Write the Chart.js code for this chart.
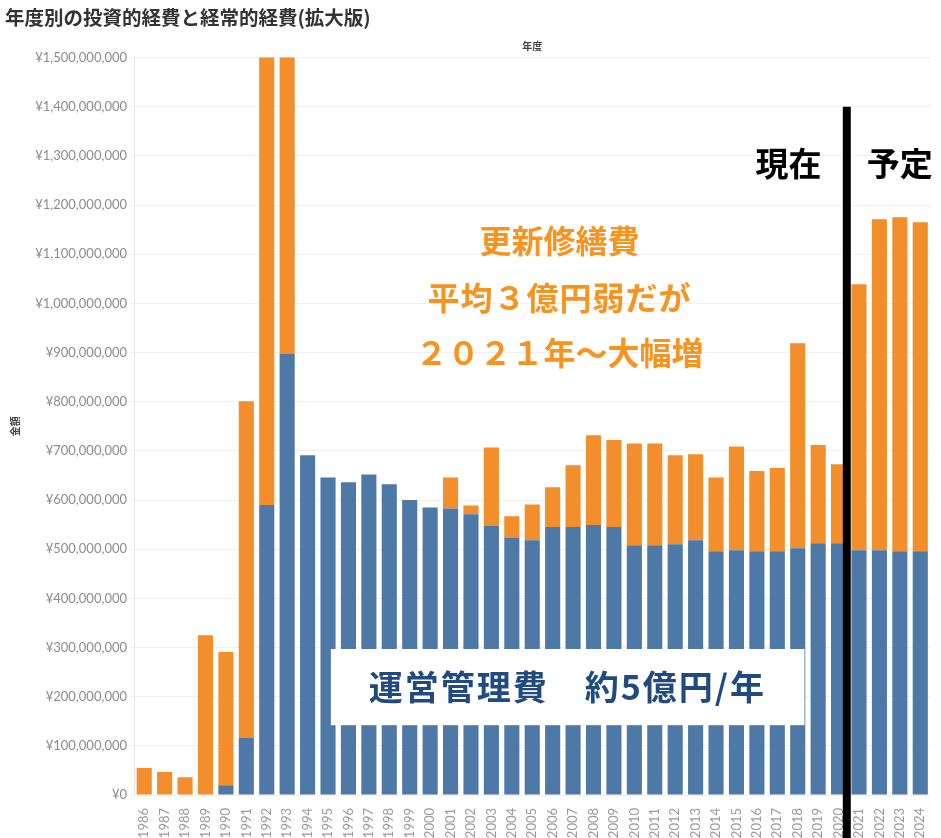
<!DOCTYPE html>
<html lang="ja">
<head>
<meta charset="utf-8">
<script src="https://cdn.jsdelivr.net/npm/chart.js@4/dist/chart.umd.min.js"></script>
<style>
body { margin: 0; background: #fff; }
#wrap { width: 941px; height: 838px; }
</style>
</head>
<body>
<div id="wrap"><canvas id="myChart" width="941" height="838"></canvas></div>
<script>
var years = ['1986','1987','1988','1989','1990','1991','1992','1993','1994','1995',
  '1996','1997','1998','1999','2000','2001','2002','2003','2004','2005',
  '2006','2007','2008','2009','2010','2011','2012','2013','2014','2015',
  '2016','2017','2018','2019','2020','2021','2022','2023','2024']

// 運営管理費 (blue)
var unei = [0,0,0,0,20e6,116e6,590e6,898e6,691e6,646e6,
  636e6,652e6,632e6,600e6,585e6,583e6,571e6,547e6,524e6,518e6,
  545e6,545e6,549e6,545e6,508e6,508e6,510e6,518e6,496e6,498e6,
  496e6,496e6,502e6,512e6,512e6,498e6,498e6,496e6,496e6]

// 更新修繕費 (orange)
var koushin = [55e6,47e6,36e6,325e6,271e6,685e6,1000e6,700e6,0,0,
  0,0,0,0,0,63e6,18e6,160e6,43e6,73e6,
  81e6,126e6,183e6,177e6,207e6,207e6,181e6,175e6,150e6,211e6,
  163e6,169e6,417e6,200e6,161e6,541e6,673e6,679e6,669e6]

var yTicksMax = 1500000000
var yStep = 100000000

var jp = "'Noto Sans CJK JP', sans-serif"

var notes = {
  id: 'notes',
  afterDraw: function(chart) {
    var ctx = chart.ctx
    var x = chart.scales.x
    var y = chart.scales.y
    ctx.save()

    // white box over the blue bars
    var bx1 = x.getPixelForValue(9.14), bx2 = x.getPixelForValue(32.33)
    var by1 = y.getPixelForValue(297e6), by2 = y.getPixelForValue(142e6)
    ctx.fillStyle = '#fff'
    ctx.fillRect(bx1, by1, bx2 - bx1, by2 - by1)
    ctx.fillStyle = '#214b80'
    ctx.font = 'bold 34px ' + jp
    ctx.textAlign = 'center'
    ctx.textBaseline = 'middle'
    ctx.letterSpacing = '2px'
    ctx.fillText('運営管理費　約5億円/年', x.getPixelForValue(20.72), y.getPixelForValue(219e6))
    ctx.letterSpacing = '0px'

    // divider now / plan
    var lx = (x.getPixelForValue(34) + x.getPixelForValue(35)) / 2 - 2
    ctx.strokeStyle = '#000'
    ctx.lineWidth = 8
    ctx.beginPath()
    ctx.moveTo(lx, y.getPixelForValue(1400000000))
    ctx.lineTo(lx, chart.height)
    ctx.stroke()

    ctx.fillStyle = '#000'
    ctx.font = 'bold 33px ' + jp
    ctx.fillText('現在', x.getPixelForValue(31.55), y.getPixelForValue(1285e6))
    ctx.fillText('予定', x.getPixelForValue(37.0), y.getPixelForValue(1285e6))

    ctx.fillStyle = '#f7931e'
    ctx.font = 'bold 32px ' + jp
    ctx.fillText('更新修繕費', x.getPixelForValue(20.33), y.getPixelForValue(1128e6))
    ctx.letterSpacing = '1px'
    ctx.fillText('平均３億円弱だが', x.getPixelForValue(20.33), y.getPixelForValue(1012e6))
    ctx.letterSpacing = '0px'
    ctx.fillText('２０２１年～大幅増', x.getPixelForValue(20.33), y.getPixelForValue(900e6))
    ctx.restore()
  }
}

var chart = new Chart('myChart', {
  type: 'bar',
  data: {
    labels: years,
    datasets: [{
      label: '運営管理費',
      data: unei,
      backgroundColor: '#4e79a7'
    }, {
      label: '更新修繕費',
      data: koushin,
      backgroundColor: '#f28e2b'
    }]
  },
  options: {
    responsive: false,
    animation: false,
    layout: { padding: { left: 5, right: 10, top: 0, bottom: 0 } },
    datasets: { bar: { barPercentage: 0.74, categoryPercentage: 1 } },
    plugins: {
      legend: { display: false },
      tooltip: { enabled: false },
      title: {
        display: true,
        text: '年度別の投資的経費と経常的経費(拡大版)',
        align: 'start',
        color: '#333',
        font: { family: jp, size: 19.5, weight: 'bold', lineHeight: 1.2 },
        padding: { top: 6, bottom: 0 }
      }
    },
    scales: {
      x: {
        stacked: true,
        grid: { display: false },
        border: { display: false },
        ticks: {
          minRotation: 90, maxRotation: 90, autoSkip: false,
          color: '#9a9a9a', padding: 5,
          font: { family: 'Lato', size: 13 }
        },
        afterFit: function(s) { s.height = 43 }
      },
      xTop: {
        type: 'category',
        position: 'top',
        grid: { display: false },
        border: { display: false },
        ticks: { display: false },
        title: {
          display: true, text: '年度', color: '#444',
          font: { family: jp, size: 10, weight: 'bold', lineHeight: 1.2 },
          padding: { top: 11, bottom: 0 }
        },
        afterFit: function(s) { s.height = 28.2 }
      },
      y: {
        stacked: true,
        min: 0,
        max: yTicksMax,
        ticks: {
          stepSize: yStep,
          color: '#8c8c8c',
          padding: 3,
          font: { family: 'Lato', size: 13 },
          callback: function(v) { return '¥' + v.toLocaleString('en-US') }
        },
        grid: { color: '#f0f0f0', tickLength: 4 },
        border: { color: '#e4e4e4' },
        title: {
          display: true, text: '金額', color: '#444',
          font: { family: jp, size: 10, weight: 'bold', lineHeight: 1.2 },
          padding: { top: 4, bottom: 0 }
        },
        afterFit: function(s) { s.width = 129 }
      }
    }
  },
  plugins: [notes]
})
</script>
</body>
</html>
